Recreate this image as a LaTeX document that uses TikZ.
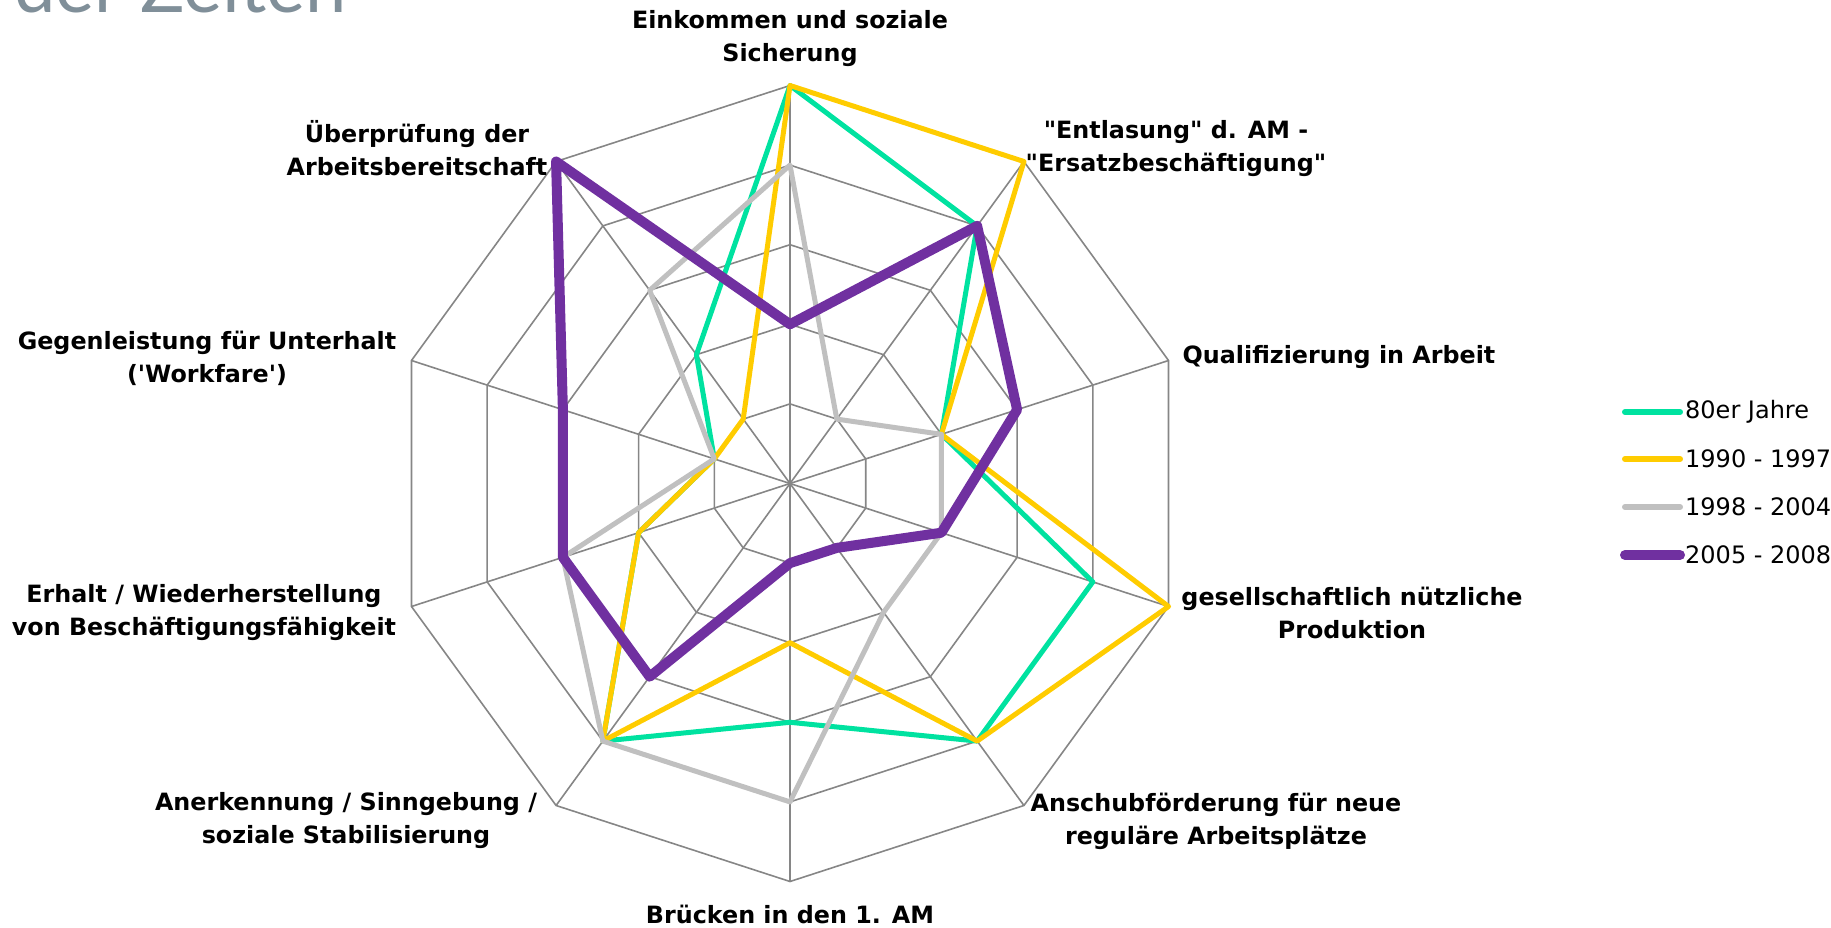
\documentclass[tikz,border=0pt]{standalone}
\usepackage{fontspec}
\setmainfont{DejaVu Sans}[Ligatures=TeXOff]
\newfontfamily\titlefont{Lato}
\usetikzlibrary{positioning}

\definecolor{gridgray}{RGB}{134,134,134}
\definecolor{achtziger}{RGB}{0,226,160}
\definecolor{neunziger}{RGB}{255,204,0}
\definecolor{nuller}{RGB}{192,192,192}
\definecolor{aktuell}{RGB}{112,48,160}
\definecolor{titlegray}{RGB}{128,143,153}

\tikzset{
  axislabel/.style={font=\bfseries\fontsize{23.8}{33}\selectfont, align=center, inner sep=0pt},
  legendtext/.style={font=\fontsize{24}{28}\selectfont, anchor=west, inner sep=0pt},
  gridline/.style={gridgray, line width=1.6pt},
  series/.style={line width=5pt, line join=round, line cap=round},
}

\begin{document}
\begin{tikzpicture}[x=1pt,y=1pt]
\useasboundingbox (0,0) rectangle (1831,-928);
\def\ringstep{79.6}

% title cut off at the top
\node[anchor=base west, inner sep=0pt, text=titlegray, font=\titlefont\fontsize{74}{74}\selectfont] (title) at (14,-13) {der Zeiten};

\begin{scope}[shift={(790,-483.5)}]
  % grid: rings and spokes
  \foreach \r in {1,...,5} {
    \draw[gridline] (90:\r*\ringstep) \foreach \i in {1,...,9} { -- ({90-36*\i}:\r*\ringstep) } -- cycle;
  }
  \foreach \i in {0,...,9} {
    \coordinate (ax\i) at ({90-36*\i}:5*\ringstep);
    \draw[gridline] (0,0) -- (ax\i);
  }

  % data series
  \foreach \v [count=\i from 0] in {5,4,2,4,4,3,4,2,1,2}
    \coordinate (g\i) at ({90-36*\i}:\v*\ringstep);
  \foreach \v [count=\i from 0] in {5,5,2,5,4,2,4,2,1,1}
    \coordinate (y\i) at ({90-36*\i}:\v*\ringstep);
  \foreach \v [count=\i from 0] in {4,1,2,2,2,4,4,3,1,3}
    \coordinate (s\i) at ({90-36*\i}:\v*\ringstep);
  \foreach \v [count=\i from 0] in {2,4,3,2,1,1,3,3,3,5}
    \coordinate (p\i) at ({90-36*\i}:\v*\ringstep);

  \draw[series, achtziger] (g0) \foreach \i in {1,...,9} { -- (g\i) } -- cycle;
  \draw[series, neunziger] (y0) \foreach \i in {1,...,9} { -- (y\i) } -- cycle;
  \draw[series, nuller] (s0) \foreach \i in {1,...,9} { -- (s\i) } -- cycle;
  \draw[series, aktuell, line width=10pt] (p0) \foreach \i in {1,...,9} { -- (p\i) } -- cycle;
\end{scope}

% axis labels
\node[axislabel] (einkommen) at (790,-38.5) {Einkommen und soziale\\Sicherung};
\node[axislabel] (entlastung) at (1176,-149) {"Entlasung" d. AM -\\"Ersatzbeschäftigung"};
\node[axislabel] (qualifizierung) at (1339,-357.5) {Qualifizierung in Arbeit};
\node[axislabel] (produktion) at (1352,-612.5) {gesellschaftlich nützliche\\Produktion};
\node[axislabel] (anschub) at (1216,-821) {Anschubförderung für neue\\reguläre Arbeitsplätze};
\node[axislabel] (bruecken) at (790,-914) {Brücken in den 1. AM};
\node[axislabel] (anerkennung) at (346,-821) {Anerkennung / Sinngebung /\\soziale Stabilisierung};
\node[axislabel] (erhalt) at (204,-612.5) {Erhalt / Wiederherstellung\\von Beschäftigungsfähigkeit};
\node[axislabel] (workfare) at (207,-358) {Gegenleistung für Unterhalt\\('Workfare')};
\node[axislabel] (pruefung) at (417,-148) {Überprüfung der\\Arbeitsbereitschaft};

% legend
\coordinate (leg1a) at (1625,-412); \coordinate (leg1b) at (1680,-412);
\coordinate (leg2a) at (1625,-459); \coordinate (leg2b) at (1680,-459);
\coordinate (leg3a) at (1625,-507); \coordinate (leg3b) at (1680,-507);
\coordinate (leg4a) at (1625,-555); \coordinate (leg4b) at (1680,-555);
\draw[series, achtziger, line width=6pt] (leg1a) -- (leg1b);
\draw[series, neunziger, line width=6pt] (leg2a) -- (leg2b);
\draw[series, nuller, line width=6pt] (leg3a) -- (leg3b);
\draw[series, aktuell, line width=10pt] (leg4a) -- (leg4b);
\node[legendtext, right=5pt of leg1b] (leg1) {80er Jahre};
\node[legendtext, right=5pt of leg2b] (leg2) {1990 - 1997};
\node[legendtext, right=5pt of leg3b] (leg3) {1998 - 2004};
\node[legendtext, right=5pt of leg4b] (leg4) {2005 - 2008};
\end{tikzpicture}
\end{document}
